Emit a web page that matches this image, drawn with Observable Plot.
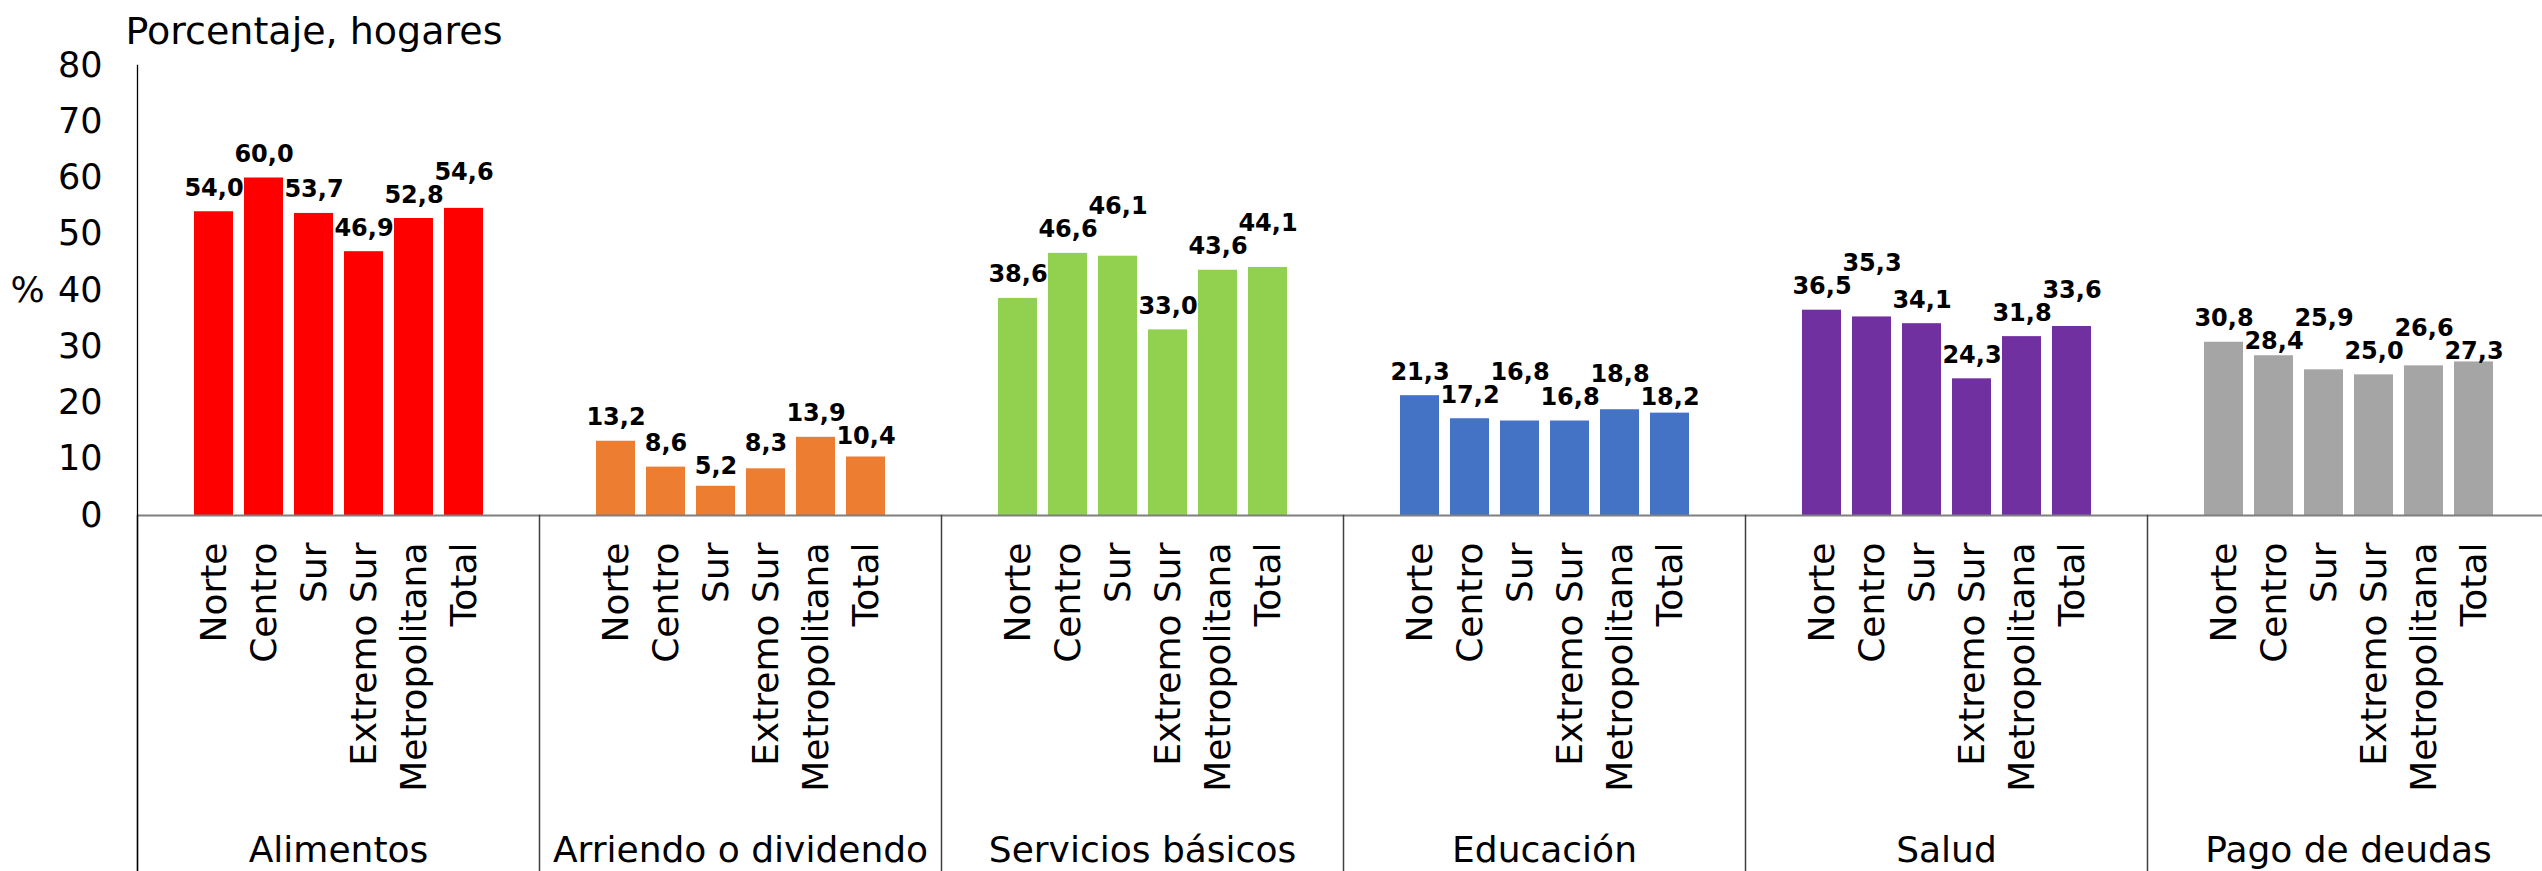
<!DOCTYPE html>
<html><head><meta charset="utf-8">
<script src="https://cdn.jsdelivr.net/npm/d3@7"></script>
<script src="https://cdn.jsdelivr.net/npm/@observablehq/plot@0.6"></script>
<style>html,body{margin:0;padding:0;background:#fff;overflow:hidden}</style>
</head><body><div id="chart"></div>
<script>
const groups = ["Alimentos", "Arriendo o dividendo", "Servicios básicos", "Educación", "Salud", "Pago de deudas"];
const regions = ["Norte", "Centro", "Sur", "Extremo Sur", "Metropolitana", "Total"];
const alimentos = [54.0, 60.0, 53.7, 46.9, 52.8, 54.6];
const arriendo = [13.2, 8.6, 5.2, 8.3, 13.9, 10.4];
const servicios = [38.6, 46.6, 46.1, 33.0, 43.6, 44.1];
const educacion = [21.3, 17.2, 16.8, 16.8, 18.8, 18.2];
const salud = [36.5, 35.3, 34.1, 24.3, 31.8, 33.6];
const deudas = [30.8, 28.4, 25.9, 25.0, 26.6, 27.3];
const colors = ["#FF0000", "#ED7D31", "#92D050", "#4472C4", "#7030A0", "#A5A5A5"];
const yTicks = [0, 10, 20, 30, 40, 50, 60, 70, 80];
const yLabel = "%";
const title = "Porcentaje, hogares";

const series = [alimentos, arriendo, servicios, educacion, salud, deudas];
const data = groups.flatMap((g, i) => regions.map((r, j) => ({group: g, region: r, value: series[i][j]})));
const fmt = v => v.toFixed(1).replace(".", ",");

const W = 2542, H = 871, mL = 137, mT = 65, mB = 356, mR = -7;
const yDomain = [0, 80];

// label placement: above each bar, nudged vertically when neighbouring labels collide
const yS = Plot.scale({y: {domain: yDomain, range: [H - mB, mT]}});
const GAP = 16, SEP = 23;
const labels = [];
groups.forEach((g, i) => {
  let prev = null;
  regions.forEach((r, j) => {
    const v = series[i][j];
    const top = yS.apply(v);
    let base = top - GAP;
    if (prev !== null && Math.abs(base - prev) < SEP) {
      const lower = prev + SEP, upper = prev - SEP;
      base = (base > prev && lower <= top - 2) ? lower : upper;
    }
    prev = base;
    labels.push({group: g, region: r, value: v, ly: yS.invert(base + GAP)});
  });
});

const plot = Plot.plot({
  width: W, height: H,
  marginLeft: mL, marginRight: mR, marginTop: mT, marginBottom: mB,
  style: {fontFamily: "'DejaVu Sans', Verdana, sans-serif", fontSize: "36px", color: "black", background: "white", overflow: "hidden"},
  fx: {domain: groups, padding: 0, label: null},
  x: {domain: regions, paddingInner: 0.224, paddingOuter: 1.112, label: null},
  y: {domain: yDomain, label: null},
  color: {domain: groups, range: colors},
  marks: [
    Plot.barY(data, {fx: "group", x: "region", y: "value", fill: "group"}),
    Plot.ruleY([0], {stroke: "#7f7f7f", strokeWidth: 2}),
    Plot.frame({anchor: "left", insetTop: H - mT - mB, insetBottom: -mB, stroke: "#404040", strokeWidth: 1.5}),
    Plot.frame({anchor: "left", facetAnchor: "left", insetBottom: -mB, stroke: "#000", strokeWidth: 1.3}),
    Plot.text(labels, {fx: "group", x: "region", y: "ly", text: d => fmt(d.value), lineAnchor: "bottom", dy: -GAP, fontWeight: "bold", fontSize: 24}),
    Plot.axisY({ticks: yTicks, tickSize: 0, tickPadding: 35, fontSize: 35, label: null, tickFormat: d => String(d)}),
    Plot.axisX({tickRotate: -90, tickSize: 0, tickPadding: 27, fontSize: 36, label: null}),
    Plot.axisFx({anchor: "bottom", tickSize: 0, tickPadding: 321, fontSize: 36, label: null}),
    Plot.text([yLabel], {text: d => d, y: [40], frameAnchor: "left", facetAnchor: "left", textAnchor: "start", dx: -127, fontSize: 36}),
    Plot.text([title], {text: d => d, frameAnchor: "top-left", facetAnchor: "left", textAnchor: "start", lineAnchor: "bottom", dx: -12, dy: -22, fontSize: 38})
  ]
});
document.getElementById("chart").appendChild(plot);
</script>
</body></html>
